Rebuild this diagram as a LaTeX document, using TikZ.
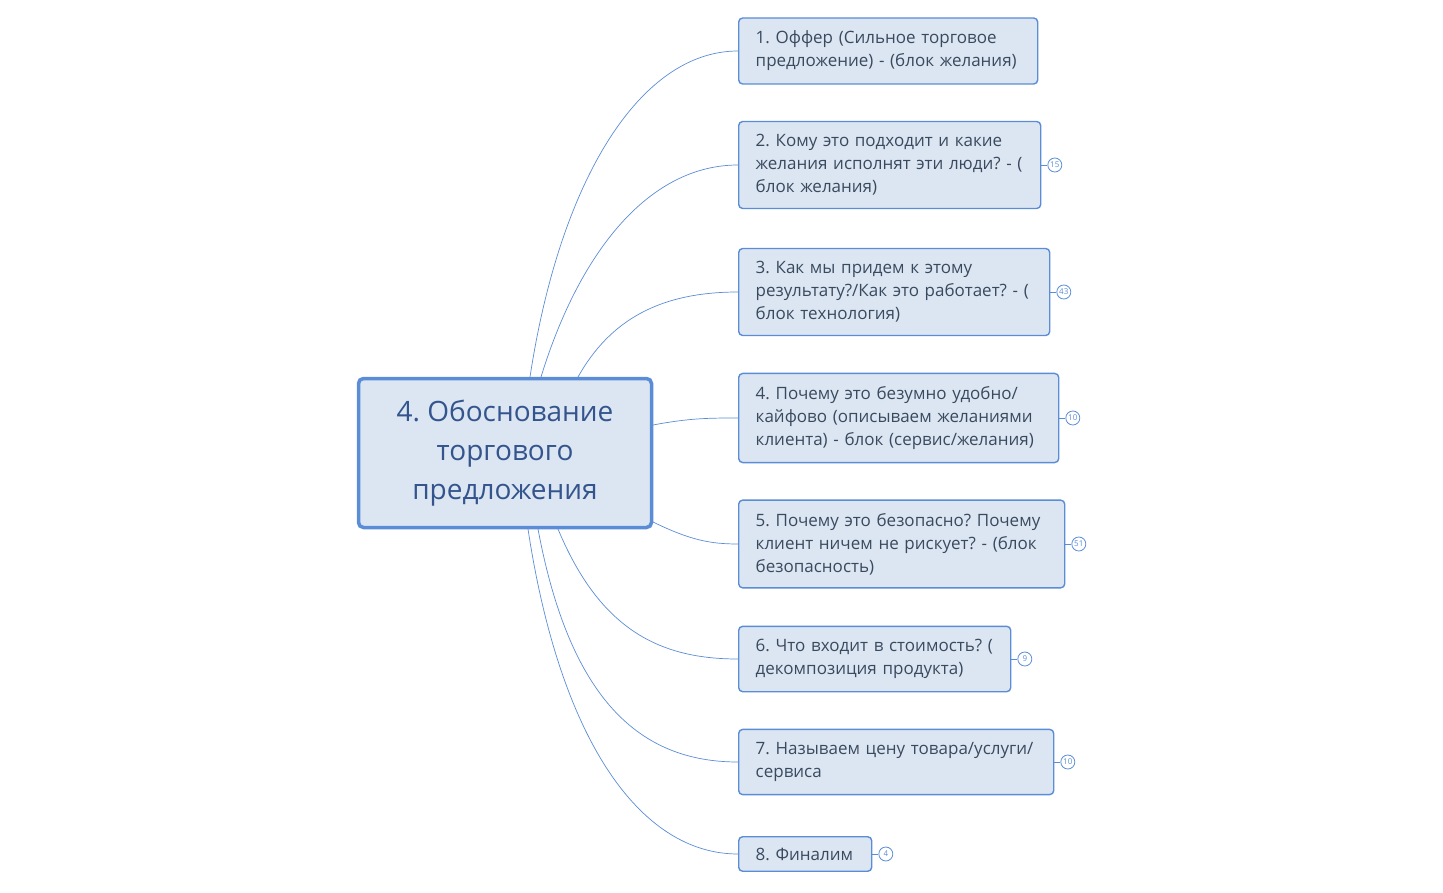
\documentclass[tikz,border=0pt]{standalone}
\usepackage{fontspec}
\setmainfont{Open Sans}
\usetikzlibrary{positioning}
\definecolor{edge}{HTML}{5B8CD6}
\definecolor{boxfill}{HTML}{DCE6F2}
\definecolor{ink}{HTML}{3A4A5E}
\definecolor{rootink}{HTML}{33548C}
\tikzset{
  topic/.style={draw=edge, line width=1.4pt, rounded corners=4pt,
    fill=boxfill, font=\fontsize{17}{23}\selectfont, text=ink,
    align=left, anchor=west, inner xsep=17pt, inner ysep=13pt},
  root/.style={draw=edge, line width=3.5pt, rounded corners=5pt,
    fill=boxfill, font=\fontsize{28}{39}\selectfont, text=rootink,
    align=center, minimum width=293pt, minimum height=149pt},
  count/.style={circle, draw=edge, line width=0.8pt, inner sep=0pt,
    minimum size=14pt, font=\fontsize{8}{8}\selectfont, text=edge},
  link/.style={draw=edge, line width=0.7pt},
  tick/.style={draw=edge, line width=0.8pt}
}
\begin{document}
\frenchspacing
\begin{tikzpicture}[x=1pt,y=-1pt]
\useasboundingbox (0,0) rectangle (1443,893);
\node[root] (main) at (505,453) {4. Обоснование\\торгового\\предложения};
% branches
\node[topic, text width=265pt] (t1) at (738,51) {1. Оффер (Сильное торговое\\предложение) - (блок желания)};
\node[topic, text width=268pt] (t2) at (738,165) {2. Кому это подходит и какие\\желания исполнят эти люди? - (\\блок желания)};
\node[topic, text width=277pt] (t3) at (738,292) {3. Как мы придем к этому\\результату?/Как это работает? - (\\блок технология)};
\node[topic, text width=286pt] (t4) at (738,418) {4. Почему это безумно удобно/\\кайфово (описываем желаниями\\клиента) - блок (сервис/желания)};
\node[topic, text width=292pt] (t5) at (738,544) {5. Почему это безопасно? Почему\\клиент ничем не рискует? - (блок\\безопасность)};
\node[topic, text width=238pt] (t6) at (738,659) {6. Что входит в стоимость? (\\декомпозиция продукта)};
\node[topic, text width=281pt] (t7) at (738,762) {7. Называем цену товара/услуги/\\сервиса};
\node[topic, text width=99pt, inner ysep=11pt] (t8) at (738,854) {8. Финалим};
% counters
\foreach \n/\v in {2/15,3/43,4/10,5/51,6/9,7/10,8/4}{
  \node[count, right=6pt of t\n] (c\n) {\v};
  \draw[tick] (t\n.east) -- (c\n.west);
}
% connectors
\coordinate (s1) at (530,377); \coordinate (s2) at (541,377);
\coordinate (s3) at (578,377); \coordinate (s4) at (653,425);
\coordinate (s5) at (653,522); \coordinate (s6) at (558,529);
\coordinate (s7) at (538,529); \coordinate (s8) at (528,529);
\draw[link] (s1) .. controls (560,180) and (640,51) .. (t1.west);
\draw[link] (s2) .. controls (580,250) and (650,165) .. (t2.west);
\draw[link] (s3) .. controls (610,320) and (660,292) .. (t3.west);
\draw[link] (s4) .. controls (690,418) and (710,418) .. (t4.west);
\draw[link] (s5) .. controls (690,540) and (710,544) .. (t5.west);
\draw[link] (s6) .. controls (600,630) and (660,659) .. (t6.west);
\draw[link] (s7) .. controls (570,700) and (640,762) .. (t7.west);
\draw[link] (s8) .. controls (560,740) and (640,854) .. (t8.west);
\end{tikzpicture}
\end{document}
